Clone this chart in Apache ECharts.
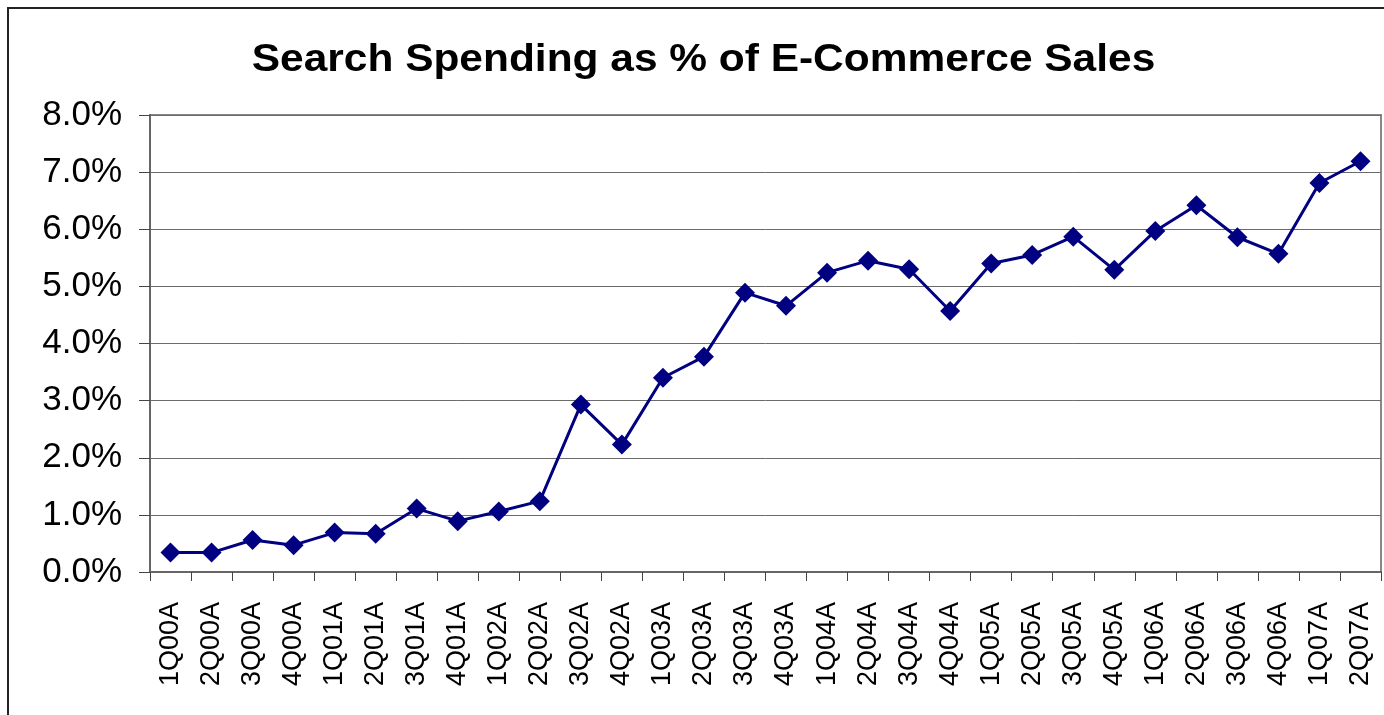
<!DOCTYPE html>
<html>
<head>
<meta charset="utf-8">
<script src="https://cdn.jsdelivr.net/npm/echarts@6/dist/echarts.min.js"></script>
<style>
  html, body { margin: 0; padding: 0; background: #fff; }
  #chart { width: 1384px; height: 715px; }
</style>
</head>
<body>
<div id="chart"></div>
<script>
// Quarterly periods (actuals)
const quarters = [
  '1Q00A', '2Q00A', '3Q00A', '4Q00A',
  '1Q01A', '2Q01A', '3Q01A', '4Q01A',
  '1Q02A', '2Q02A', '3Q02A', '4Q02A',
  '1Q03A', '2Q03A', '3Q03A', '4Q03A',
  '1Q04A', '2Q04A', '3Q04A', '4Q04A',
  '1Q05A', '2Q05A', '3Q05A', '4Q05A',
  '1Q06A', '2Q06A', '3Q06A', '4Q06A',
  '1Q07A', '2Q07A'
];

// Search spending as a percentage of e-commerce sales
const searchShare = [
  0.34, 0.34, 0.56, 0.47,
  0.69, 0.67, 1.11, 0.89,
  1.06, 1.24, 2.93, 2.23,
  3.40, 3.77, 4.89, 4.66,
  5.24, 5.45, 5.30, 4.57,
  5.40, 5.55, 5.87, 5.29,
  5.97, 6.42, 5.86, 5.57,
  6.81, 7.19
];

const chartTitle = 'Search Spending as % of E-Commerce Sales';

const yTicks = { min: 0, max: 8, step: 1 };

const chart = echarts.init(document.getElementById('chart'), null, { renderer: 'canvas' });

chart.setOption({
  backgroundColor: '#ffffff',
  animation: false,
  graphic: [
    {
      // outer frame of the chart
      type: 'rect',
      shape: { x: 8, y: 8, width: 1400, height: 730 },
      style: { fill: 'none', stroke: '#222', lineWidth: 2 },
      silent: true,
      z: 100
    },
    {
      // heading, drawn slightly wide
      type: 'text',
      x: 703.5,
      y: 42,
      scaleX: 1.117,
      style: {
        text: chartTitle,
        font: 'bold 38px "Liberation Sans", Arial, sans-serif',
        textAlign: 'center',
        textVerticalAlign: 'top',
        fill: '#000'
      },
      silent: true,
      z: 100
    }
  ],
  grid: {
    left: 150,
    right: 3,
    top: 115,
    bottom: 143,
    show: true,
    borderColor: '#888',
    borderWidth: 2
  },
  xAxis: {
    type: 'category',
    data: quarters,
    boundaryGap: true,
    axisLine: { show: true, lineStyle: { color: '#666', width: 2 } },
    axisTick: { show: true, length: 9, lineStyle: { color: '#444', width: 1 } },
    axisLabel: {
      rotate: 90,
      interval: 0,
      margin: 30,
      fontFamily: 'Liberation Sans, Arial, sans-serif',
      fontSize: 27,
      color: '#000'
    },
    splitLine: { show: false }
  },
  yAxis: {
    type: 'value',
    min: yTicks.min,
    max: yTicks.max,
    interval: yTicks.step,
    axisLine: { show: true, lineStyle: { color: '#666', width: 2 } },
    axisTick: { show: true, inside: false, length: 11, lineStyle: { color: '#444', width: 1 } },
    axisLabel: {
      margin: 28,
      fontFamily: 'Liberation Sans, Arial, sans-serif',
      fontSize: 35,
      color: '#000',
      formatter: v => v.toFixed(1) + '%'
    },
    splitLine: { show: true, lineStyle: { color: '#6a6a6a', width: 1 } }
  },
  series: [{
    type: 'line',
    data: searchShare,
    symbol: 'diamond',
    symbolSize: 20,
    lineStyle: { color: '#000080', width: 3 },
    itemStyle: { color: '#000080' },
    z: 5
  }]
});
</script>
</body>
</html>
